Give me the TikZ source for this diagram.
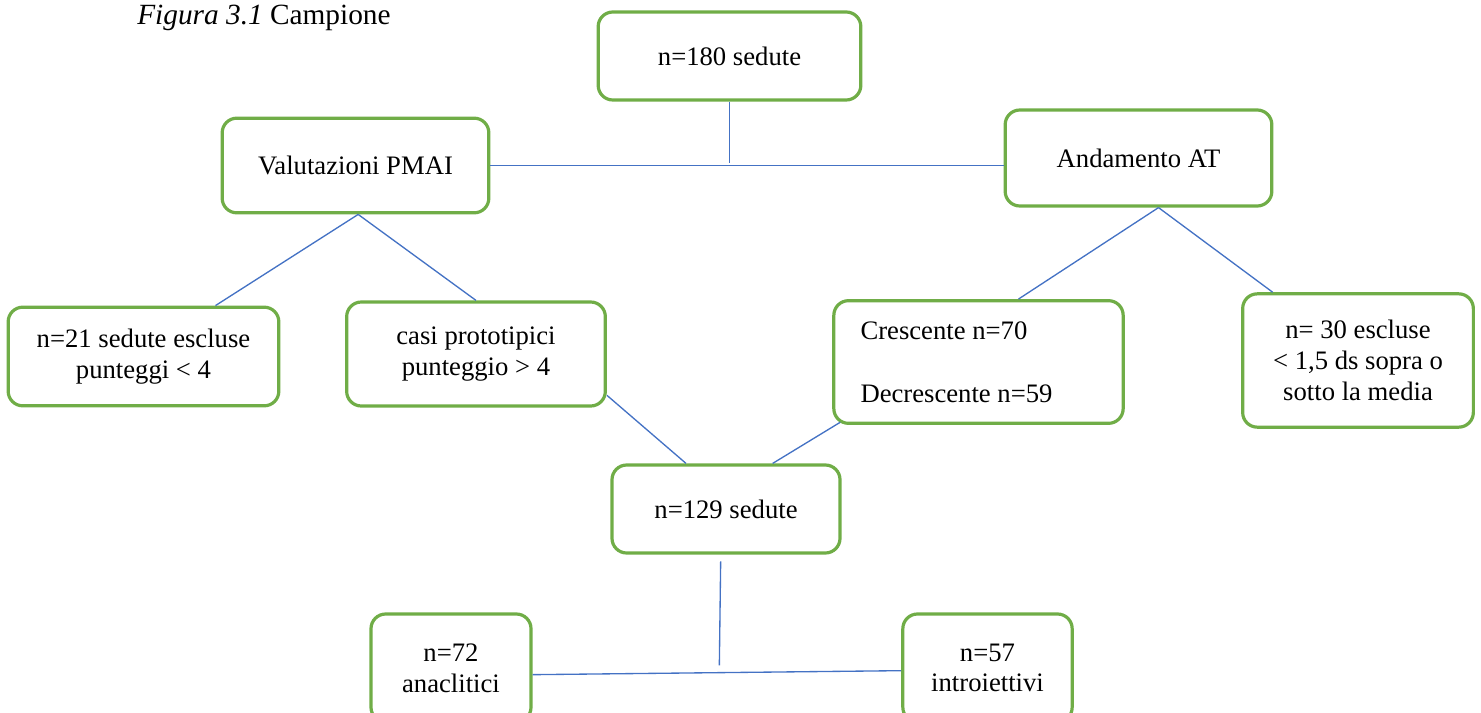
\documentclass[tikz,border=0pt]{standalone}
\usepackage{fontspec}
\setmainfont{Liberation Serif}
\usepackage{tikz}
\usetikzlibrary{positioning}
\usepackage{xcolor}

\definecolor{boxgreen}{RGB}{112,173,71}
\definecolor{linkblue}{RGB}{68,114,196}

\tikzset{
  box/.style={draw=boxgreen, line width=2.4pt, rounded corners=11pt, align=center,
    font=\fontsize{20}{23}\selectfont, inner sep=2pt},
  link/.style={draw=linkblue, line width=1pt}
}

\begin{document}
\begin{tikzpicture}[x=0.75pt,y=0.75pt,yscale=-1,xscale=1]
%set diagram frame: 1481 x 713
\clip (0,0) rectangle (1481,713);

% Text Node: caption
\node (caption) [anchor=base west, inner sep=0pt, font=\fontsize{22}{25}\selectfont] at (137,25) {\textit{Figura 3.1} Campione};

%Shape: Rounded Rect [top]
\node (tot) [box, minimum width=197pt, minimum height=66pt] at (729.5,56) {n=180 sedute};
%Shape: Rounded Rect [PMAI]
\node (pmai) [box, minimum width=200pt, minimum height=71pt] at (355.5,165.5) {Valutazioni PMAI};
%Shape: Rounded Rect [AT]
\node (at) [box, minimum width=200pt, minimum height=72pt] at (1138.5,158) {Andamento AT};
%Shape: Rounded Rect [esclusi PMAI]
\node (escl) [box, minimum width=203pt, minimum height=74pt] at (143.5,356.5) {n=21 sedute escluse\\punteggi < 4};
%Shape: Rounded Rect [prototipici]
\node (proto) [box, minimum width=194pt, minimum height=78pt] at (476,354) {casi prototipici\\punteggio > 4};
%Shape: Rounded Rect [andamento]
\node (trend) [box, align=left, text width=177pt, inner xsep=20pt, inner ysep=2pt, minimum width=217pt, minimum height=92pt] at (978.5,362) {\spaceskip=0pt\relax\mbox{Crescente n=70}\\[24pt]\mbox{Decrescente n=59}};
%Shape: Rounded Rect [esclusi AT]
\node (esclat) [box, minimum width=173pt, minimum height=100pt] at (1358,360.5) {n= 30 escluse\\< 1,5 ds sopra o\\sotto la media};
%Shape: Rounded Rect [campione]
\node (camp) [box, minimum width=171pt, minimum height=66pt] at (726,509) {n=129 sedute};
%Shape: Rounded Rect [anaclitici]
\node (ana) [box, minimum width=120pt, minimum height=81pt] at (451,668) {n=72\\anaclitici};
%Shape: Rounded Rect [introiettivi]
\node (intro) [box, minimum width=127pt, minimum height=81pt] at (987.5,668) {n=57\\introiettivi};

%Straight Lines
\coordinate (jtop) at (tot.south |- pmai.east);
\draw [link] (pmai.east) -- (at.west |- pmai.east);
\draw [link] (tot.south) -- ([yshift=-2pt]jtop);
%Straight Lines
\draw [link] ([xshift=2pt]pmai.south) -- ([xshift=54pt]escl.north);
\draw [link] ([xshift=2pt]pmai.south) -- (proto.north);
%Straight Lines
\draw [link] ([xshift=15pt]at.south) -- ([xshift=30pt]trend.north);
\draw [link] ([xshift=15pt]at.south) -- ([xshift=-64pt]esclat.north);
%Straight Lines
\draw [link] ([yshift=31pt]proto.east) -- ([xshift=-30pt]camp.north);
\draw [link] ([xshift=6pt,yshift=-2pt]trend.south west) -- ([xshift=35pt]camp.north);
%Straight Lines
\coordinate (jbot) at ([xshift=-5pt]camp.south |- ana.east);
\draw [link] ([yshift=5pt]ana.east) -- ([yshift=2pt]intro.west);
\draw [link] ([xshift=-4pt,yshift=5pt]camp.south) -- ([yshift=-2pt]jbot);

\end{tikzpicture}
\end{document}
